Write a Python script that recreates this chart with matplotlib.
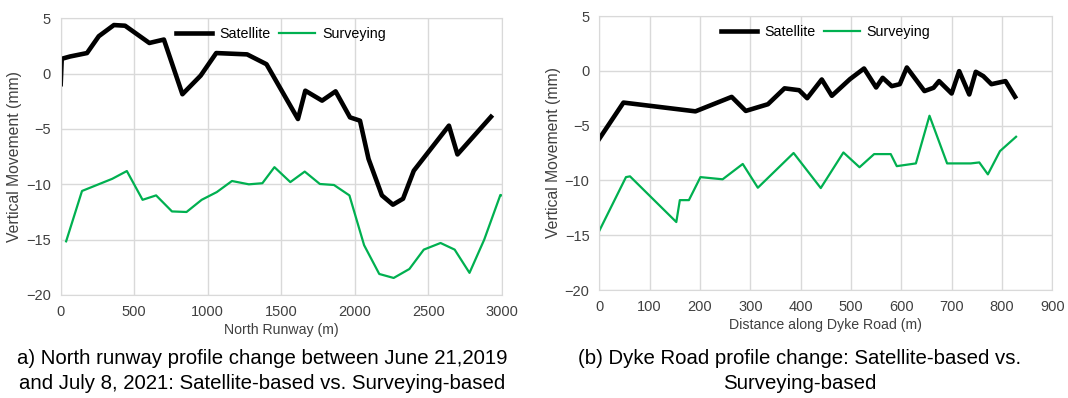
import matplotlib
matplotlib.use('Agg')
import matplotlib.pyplot as plt

plt.rcParams['font.family'] = ['Liberation Sans', 'DejaVu Sans']

# North runway profile (m, mm)
runway_sat_x = [0, 7, 64, 179, 259, 362, 438, 603, 702, 828, 952, 1058, 1268, 1400,
                1614, 1664, 1778, 1870, 1968, 2036, 2094, 2185, 2260, 2329, 2402,
                2641, 2699, 2927]
runway_sat_y = [-0.95, 1.34, 1.55, 1.86, 3.38, 4.39, 4.33, 2.77, 3.08, -1.86, -0.18,
                1.86, 1.74, 0.85, -4.1, -1.54, -2.44, -1.6, -3.95, -4.25, -7.7,
                -11.0, -11.84, -11.3, -8.77, -4.7, -7.3, -3.9]
runway_srv_x = [37, 145, 351, 450, 557, 649, 757, 856, 959, 1062, 1165, 1280, 1372,
                1454, 1562, 1660, 1763, 1859, 1964, 2064, 2167, 2265, 2372, 2470,
                2584, 2680, 2781, 2881, 2991, 3000]
runway_srv_y = [-15.15, -10.6, -9.5, -8.8, -11.4, -11.0, -12.45, -12.5, -11.4, -10.7,
                -9.7, -10.0, -9.9, -8.45, -9.8, -8.85, -9.97, -10.06, -11.0, -15.5,
                -18.1, -18.46, -17.65, -15.9, -15.3, -15.9, -18.0, -15.0, -10.96, -11.0]

# Dyke Road profile (m, mm)
dyke_sat_x = [0, 48, 191, 263, 291, 335, 368, 397, 413, 442, 462, 498, 526, 550, 563,
              581, 597, 611, 646, 664, 675, 700, 715, 735, 748, 763, 779, 807, 826]
dyke_sat_y = [-6.2, -2.9, -3.7, -2.38, -3.66, -3.05, -1.6, -1.77, -2.5, -0.79, -2.28,
              -0.76, 0.21, -1.52, -0.64, -1.4, -1.22, 0.3, -1.85, -1.55, -0.94, -2.07,
              -0.03, -2.16, -0.09, -0.49, -1.22, -0.94, -2.37]
dyke_srv_x = [0, 53, 61, 153, 160, 178, 201, 245, 285, 315, 386, 440, 485, 517, 546,
              579, 591, 629, 656, 691, 738, 755, 772, 796, 828]
dyke_srv_y = [-14.6, -9.7, -9.63, -13.8, -11.8, -11.8, -9.7, -9.9, -8.5, -10.67, -7.5,
              -10.7, -7.45, -8.8, -7.6, -7.6, -8.7, -8.45, -4.1, -8.45, -8.45, -8.36,
              -9.45, -7.33, -6.02]

SAT_COLOR = 'black'
SRV_COLOR = '#00B050'
GRID = '#D9D9D9'
TICK = '#404040'


def style_axes(ax, xmax, xstep, xlabel):
    ax.set_xlim(0, xmax)
    ax.set_ylim(-20, 5)
    ax.set_xticks(range(0, xmax + 1, xstep))
    ax.set_yticks(range(-20, 6, 5))
    ax.grid(True, color=GRID, linewidth=1)
    ax.set_axisbelow(True)
    for s in ax.spines.values():
        s.set_color(GRID)
    ax.tick_params(length=0, labelsize=10.5, colors=TICK, pad=7)
    ax.set_xlabel(xlabel, fontsize=10.2, color=TICK, labelpad=3)
    ax.set_ylabel('Vertical Movement (mm)', fontsize=11.3, color=TICK, labelpad=3)
    ax.legend(loc='upper center', bbox_to_anchor=(0.5, 1.0), ncol=2, frameon=False,
              fontsize=10.3, handlelength=2.5, handletextpad=0.5, columnspacing=0.6,
              borderaxespad=0.2)


fig = plt.figure(figsize=(10.68, 3.98), dpi=100)
ax1 = fig.add_axes([60.7 / 1068, 1 - 295 / 398, 441 / 1068, 276.7 / 398])
ax2 = fig.add_axes([599.3 / 1068, 1 - 290 / 398, 453 / 1068, 274 / 398])

ax1.plot(runway_sat_x, runway_sat_y, color=SAT_COLOR, linewidth=3.3, label='Satellite')
ax1.plot(runway_srv_x, runway_srv_y, color=SRV_COLOR, linewidth=1.6, label='Surveying')
style_axes(ax1, 3000, 500, 'North Runway (m)')

ax2.plot(dyke_sat_x, dyke_sat_y, color=SAT_COLOR, linewidth=3.3, label='Satellite')
ax2.plot(dyke_srv_x, dyke_srv_y, color=SRV_COLOR, linewidth=1.6, label='Surveying')
style_axes(ax2, 900, 100, 'Distance along Dyke Road (m)')

fig.text(262 / 1068, 1 - 371 / 398,
         'a) North runway profile change between June 21,2019\n'
         'and July 8, 2021: Satellite-based vs. Surveying-based',
         ha='center', va='center', fontsize=14.7, linespacing=1.45)
fig.text(800 / 1068, 1 - 371 / 398,
         '(b) Dyke Road profile change: Satellite-based vs.\nSurveying-based',
         ha='center', va='center', fontsize=14.7, linespacing=1.45)

fig.savefig('out.png', dpi=100)
plt.close(fig)
